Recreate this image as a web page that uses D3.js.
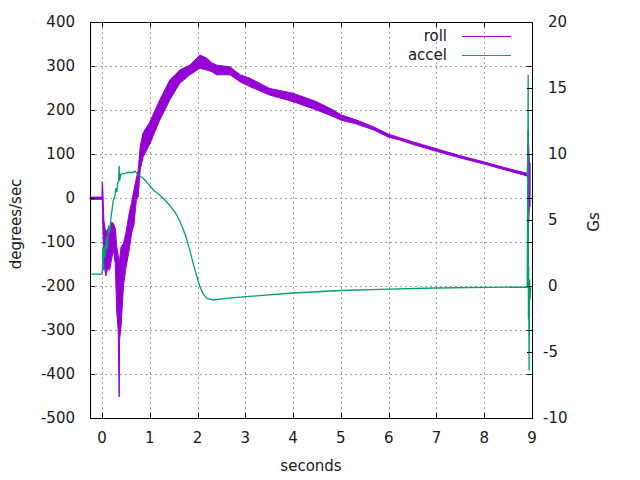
<!DOCTYPE html>
<html>
<head>
<meta charset="utf-8">
<script src="https://cdn.jsdelivr.net/npm/d3@7"></script>
<style>
body { margin: 0; background: #fff; }
svg { font-family: "DejaVu Sans", sans-serif; }
svg text { fill: #1a1a1a; }
</style>
</head>
<body>
<svg id="chart" width="640" height="480"></svg>
<script>
// roll (degrees/sec): noisy trace, kept as a low/high envelope
var rollT  = [-0.25, 0.0, 0.005, 0.015, 0.04, 0.08, 0.12, 0.16, 0.20, 0.24, 0.28, 0.31, 0.34, 0.36, 0.37, 0.40, 0.45, 0.50, 0.57, 0.62, 0.67, 0.72, 0.76, 0.80, 0.86, 1.00, 1.21, 1.42, 1.63, 1.84, 2.05, 2.19, 2.30, 2.40, 2.68, 2.89, 3.10, 3.51, 4.00, 4.49, 4.84, 5.00, 5.33, 5.68, 6.00, 6.23, 6.50, 7.00, 7.50, 8.00, 8.50, 8.90, 8.92, 8.93, 8.945, 8.96];
var rollLo = [-3, -3, -3, -50, -148, -177, -160, -164, -140, -118, -150, -260, -300, -452, -320, -292, -200, -160, -118, -80, -60, -5, 3, 64, 93, 122, 177, 223, 261, 280, 295, 291, 287, 280, 280, 264, 253, 234, 219, 200, 185, 177, 168, 155, 138, 132, 122, 106, 91, 77, 62, 50, 40, -57, -20, -20];
var rollHi = [2, 2, 37, 30, -50, -80, -70, -73, -55, -58, -70, -110, -130, -150, -140, -111, -103, -80, -35, -10, 18, 45, 64, 116, 148, 172, 223, 268, 291, 302, 325, 318, 307, 302, 298, 280, 272, 249, 238, 219, 200, 189, 177, 162, 145, 137, 128, 112, 96, 82, 67, 56, 153, 120, 80, 80];

// accel (Gs)
var accelT = [-0.25, 0.0, 0.01, 0.02, 0.03, 0.05, 0.07, 0.09, 0.11, 0.14, 0.16, 0.19, 0.22, 0.24, 0.27, 0.29, 0.31, 0.33, 0.35, 0.36, 0.37, 0.40, 0.45, 0.55, 0.65, 0.69, 0.76, 0.85, 0.93, 1.00, 1.10, 1.21, 1.32, 1.42, 1.53, 1.63, 1.70, 1.77, 1.84, 1.91, 1.98, 2.05, 2.12, 2.19, 2.33, 2.60, 3.02, 3.30, 4.00, 5.00, 6.00, 7.00, 8.00, 8.90, 8.92, 8.925, 8.93, 8.94, 8.95, 8.96, 8.97];
var accelG = [0.9, 0.9, 1.3, 2.9, 1.2, 3.0, 2.2, 3.7, 2.8, 4.6, 4.0, 5.2, 6.0, 6.5, 6.8, 7.4, 7.1, 7.8, 7.9, 9.1, 8.0, 8.5, 8.5, 8.6, 8.6, 8.7, 8.4, 8.2, 7.9, 7.6, 7.2, 6.9, 6.5, 6.1, 5.6, 4.9, 4.3, 3.6, 2.7, 1.7, 0.8, -0.05, -0.6, -0.93, -1.06, -0.93, -0.81, -0.73, -0.53, -0.34, -0.23, -0.15, -0.11, -0.08, 16.0, -2.5, 1.5, -6.4, 0.5, -1.0, 0.0];

var xTicks  = [0, 1, 2, 3, 4, 5, 6, 7, 8, 9];
var yTicks  = [-500, -400, -300, -200, -100, 0, 100, 200, 300, 400];
var y2Ticks = [-10, -5, 0, 5, 10, 15, 20];

var pLeft = 90, pRight = 532, pTop = 22, pBottom = 418;

var x  = d3.scaleLinear().domain([-0.25, 9]).range([pLeft, pRight]);
var y  = d3.scaleLinear().domain([-500, 400]).range([pBottom, pTop]);
var y2 = d3.scaleLinear().domain([-10, 20]).range([pBottom, pTop]);

var svg = d3.select("#chart");

// grid
var grid = svg.append("g")
    .attr("stroke", "#a0a0a0")
    .attr("stroke-width", 1)
    .attr("stroke-dasharray", "2,3")
    .attr("shape-rendering", "crispEdges");
grid.selectAll("line.gx")
    .data(xTicks.filter(function(d) { return d < 9; }))
  .enter().append("line")
    .attr("x1", function(d) { return Math.round(x(d)) + 0.5; })
    .attr("x2", function(d) { return Math.round(x(d)) + 0.5; })
    .attr("y1", pTop).attr("y2", pBottom);
grid.selectAll("line.gy")
    .data(yTicks.filter(function(d) { return d > -500 && d < 400; }))
  .enter().append("line")
    .attr("y1", function(d) { return Math.round(y(d)) + 0.5; })
    .attr("y2", function(d) { return Math.round(y(d)) + 0.5; })
    .attr("x1", pLeft).attr("x2", pRight);

// roll
var rollData = rollT.map(function(t, i) { return {t: t, lo: rollLo[i], hi: rollHi[i]}; });
svg.append("path")
    .datum(rollData)
    .attr("fill", "#9400d3")
    .attr("stroke", "#9400d3")
    .attr("stroke-width", 1)
    .attr("stroke-linejoin", "round")
    .attr("d", d3.area()
        .x(function(d) { return x(d.t); })
        .y0(function(d) { return y(d.lo); })
        .y1(function(d) { return y(d.hi); }));

// accel
var accelData = accelT.map(function(t, i) { return {t: t, g: accelG[i]}; });
svg.append("path")
    .datum(accelData)
    .attr("fill", "none")
    .attr("stroke", "#009e73")
    .attr("stroke-width", 1.3)
    .attr("d", d3.line()
        .x(function(d) { return x(d.t); })
        .y(function(d) { return y2(d.g); }));

// border
svg.append("rect")
    .attr("x", pLeft + 0.5).attr("y", pTop + 0.5)
    .attr("width", pRight - pLeft).attr("height", pBottom - pTop)
    .attr("fill", "none").attr("stroke", "#000").attr("stroke-width", 1)
    .attr("shape-rendering", "crispEdges");

// ticks (inward, mirrored)
var tl = 5;
var tk = svg.append("g").attr("stroke", "#000").attr("shape-rendering", "crispEdges");
xTicks.forEach(function(d) {
  var px = Math.round(x(d)) + 0.5;
  tk.append("line").attr("x1", px).attr("x2", px).attr("y1", pBottom).attr("y2", pBottom - tl);
  tk.append("line").attr("x1", px).attr("x2", px).attr("y1", pTop).attr("y2", pTop + tl);
});
yTicks.forEach(function(d) {
  var py = Math.round(y(d)) + 0.5;
  tk.append("line").attr("x1", pLeft).attr("x2", pLeft + tl).attr("y1", py).attr("y2", py);
  tk.append("line").attr("x1", pRight).attr("x2", pRight - tl).attr("y1", py).attr("y2", py);
});
y2Ticks.forEach(function(d) {
  var py = Math.round(y2(d)) + 0.5;
  tk.append("line").attr("x1", pRight).attr("x2", pRight - tl).attr("y1", py).attr("y2", py);
});

// tick labels
var fs = "15px";
svg.selectAll("text.xl")
    .data(xTicks)
  .enter().append("text")
    .attr("x", function(d) { return x(d); })
    .attr("y", 438)
    .attr("text-anchor", "middle")
    .attr("dominant-baseline", "central")
    .style("font-size", fs)
    .text(function(d) { return d; });
svg.selectAll("text.yl")
    .data(yTicks)
  .enter().append("text")
    .attr("x", 75)
    .attr("y", function(d) { return y(d); })
    .attr("text-anchor", "end")
    .attr("dominant-baseline", "central")
    .style("font-size", fs)
    .text(function(d) { return d; });
svg.selectAll("text.y2l")
    .data(y2Ticks)
  .enter().append("text")
    .attr("x", function(d) { return d < 0 ? 543 : 548; })
    .attr("y", function(d) { return y2(d); })
    .attr("text-anchor", "start")
    .attr("dominant-baseline", "central")
    .style("font-size", fs)
    .text(function(d) { return d; });

// axis titles
svg.append("text")
    .attr("x", 311).attr("y", 466)
    .attr("text-anchor", "middle").attr("dominant-baseline", "central")
    .style("font-size", fs)
    .text("seconds");
svg.append("text")
    .attr("transform", "translate(16,224) rotate(-90)")
    .attr("text-anchor", "middle").attr("dominant-baseline", "central")
    .style("font-size", fs)
    .text("degrees/sec");
svg.append("text")
    .attr("transform", "translate(594,222) rotate(-90)")
    .attr("text-anchor", "middle").attr("dominant-baseline", "central")
    .style("font-size", fs)
    .text("Gs");

// legend
var legend = [{name: "roll", color: "#9400d3", y: 36}, {name: "accel", color: "#009e73", y: 55}];
legend.forEach(function(d) {
  svg.append("text")
      .attr("x", 447).attr("y", d.y)
      .attr("text-anchor", "end").attr("dominant-baseline", "central")
      .style("font-size", fs)
      .text(d.name);
  svg.append("line")
      .attr("x1", 462).attr("x2", 511)
      .attr("y1", d.y + 0.5).attr("y2", d.y + 0.5)
      .attr("stroke", d.color).attr("stroke-width", 1);
});
</script>
</body>
</html>
